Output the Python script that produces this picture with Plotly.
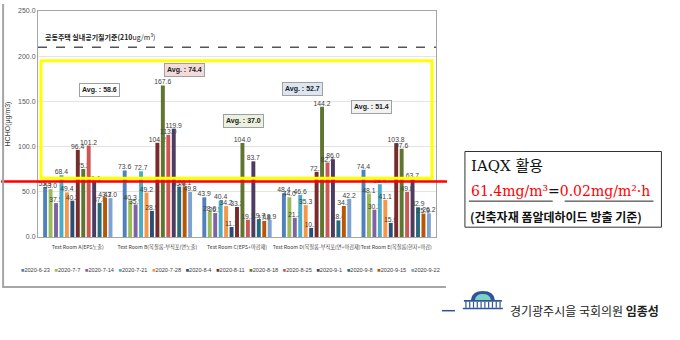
import plotly.graph_objects as go

rooms = ["Test Room A(EPS노출)", "Test Room B(목질룸-부직포(면노출)", "Test Room C(EPS+마감재)",
         "Test Room D(목질룸-부직포(면+마감재)", "Test Room E(목질룸(현자+마감)"]
dates = ["2020-6-23", "2020-7-7", "2020-7-14", "2020-7-21", "2020-7-28", "2020-8-4", "2020-8-11",
         "2020-8-18", "2020-8-25", "2020-9-1", "2020-9-8", "2020-9-15", "2020-9-22"]
v_0623 = [55.3, 73.6, 43.9, 48.4, 74.4]
v_0707 = [53.0, 40.3, 28.0, 44.0, 48.1]
v_0714 = [37.5, 35.9, 26.5, 21.2, 30.2]
v_0721 = [68.4, 72.7, 40.4, 46.6, 58.4]
v_0728 = [49.4, 49.2, 34.2, 35.3, 41.1]
v_0804 = [40.2, 28.9, 11.1, 10.1, 15.6]
v_0811 = [96.4, 104.2, 33.2, 72.1, 103.8]
v_0818 = [75.2, 167.6, 104.0, 144.2, 97.6]
v_0825 = [101.2, 113.0, 19.1, 82.4, 49.8]
v_0901 = [61.1, 119.9, 83.7, 86.0, 63.7]
v_0908 = [37.8, 55.8, 19.7, 18.4, 32.9]
v_0915 = [43.7, 56.1, 17.8, 34.3, 25.9]
v_0922 = [43.0, 49.8, 18.9, 42.2, 26.2]
series = [v_0623, v_0707, v_0714, v_0721, v_0728, v_0804, v_0811, v_0818, v_0825, v_0901, v_0908, v_0915, v_0922]
standard_210 = 210
iaqx_limit = 61.4

colors = ["#4F81BD", "#9BBB59", "#8064A2", "#4BACC6", "#F79646", "#2C4D75", "#772C2A",
          "#5F7530", "#CD5755", "#4D3B62", "#276A7C", "#B65708", "#7FA2D2"]

# plot area in pixels
L, T, W, H = 37, 7, 399, 230
def px(x): return (x - L) / W
def py(y): return (T + H - y) / H

FONT = "Liberation Sans, Noto Sans CJK KR, sans-serif"
KFONT = "Noto Sans CJK KR, sans-serif"

fig = go.Figure()
for d, vals, c in zip(dates, series, colors):
    fig.add_trace(go.Bar(
        x=rooms, y=vals, name=d, marker=dict(color=c, line=dict(width=0)),
        text=[f"{v:.1f}" for v in vals], textposition="outside",
        textfont=dict(size=6.8, color="#404040", family=FONT), cliponaxis=False,
    ))

shapes = []
ann = []

# 210 standard dashed line
shapes.append(dict(type="line", xref="paper", yref="y", x0=0, x1=1, y0=standard_210, y1=standard_210,
                   line=dict(color="#555555", width=1.5, dash="dash"), layer="above"))
ann.append(dict(xref="paper", yref="y", x=px(42), y=standard_210 + 3, xanchor="left", yanchor="bottom",
                text="<b>공동주택 실내공기질기준(210</b>ug/m<sup>3</sup>)", showarrow=False,
                font=dict(size=7, color="#202020", family=KFONT)))

# yellow highlight box
shapes.append(dict(type="rect", xref="paper", yref="y", x0=px(40), x1=px(432), y0=65, y1=195,
                   line=dict(color="#FFFF00", width=3), fillcolor="rgba(0,0,0,0)", layer="above"))
# red IAQX line
shapes.append(dict(type="line", xref="paper", yref="y", x0=px(0), x1=px(447), y0=iaqx_limit, y1=iaqx_limit,
                   line=dict(color="#FF0000", width=2.5), layer="above"))

# average boxes
avg_pos = [(78, 163), (163, 185), (243, 128), (323, 164), (392, 143.5)]
avg_bg = ["#FFFFFF", "#F2DCDB", "#EBF1DE", "#DCE6F2", "#F2F2F2"]
for i, (room, (ax, ay), bg) in enumerate(zip(rooms, avg_pos, avg_bg)):
    avg = sum(s[i] for s in series) / len(series)
    ann.append(dict(xref="paper", yref="y", x=px(ax), y=ay, text=f"<b>Avg. : {avg:.1f}</b>", showarrow=False,
                    font=dict(size=7, color="#202020", family=FONT), bgcolor=bg, bordercolor="#A0A0A0",
                    borderwidth=1, borderpad=2))

# custom legend
leg = "   ".join(f"<span style='color:{c}'>■</span>{d}" for d, c in zip(dates, colors))
ann.append(dict(xref="paper", yref="paper", x=px(230), y=py(271), text=leg, showarrow=False,
                xanchor="center", yanchor="middle", font=dict(size=5.6, color="#404040", family=FONT)))

# outer frame
shapes.append(dict(type="line", xref="paper", yref="paper", x0=px(2), x1=px(2), y0=py(0), y1=py(288),
                   line=dict(color="#A6A6A6", width=2)))
shapes.append(dict(type="line", xref="paper", yref="paper", x0=px(1), x1=px(446), y0=py(288), y1=py(288),
                   line=dict(color="#A6A6A6", width=2)))

# right info box
shapes.append(dict(type="rect", xref="paper", yref="paper", x0=px(465), x1=px(662), y0=py(150), y1=py(227),
                   line=dict(color="#333333", width=1)))
SFONT = "DejaVu Serif, Noto Sans CJK KR, serif"
ann.append(dict(xref="paper", yref="paper", x=px(469), y=py(165), xanchor="left", yanchor="middle",
                text="IAQX 활용", showarrow=False, font=dict(size=15, color="#111111", family=SFONT)))
ann.append(dict(xref="paper", yref="paper", x=px(469), y=py(190), xanchor="left", yanchor="middle",
                text="<span style='color:#FF0000'>61.4mg/m³</span>=<span style='color:#FF0000'>0.02mg/m²·h</span>",
                showarrow=False, font=dict(size=14, color="#111111", family=SFONT)))
shapes.append(dict(type="line", xref="paper", yref="paper", x0=px(469), x1=px(553), y0=py(200.5), y1=py(200.5),
                   line=dict(color="#222222", width=1)))
shapes.append(dict(type="line", xref="paper", yref="paper", x0=px(565), x1=px(654), y0=py(200.5), y1=py(200.5),
                   line=dict(color="#222222", width=1)))
ann.append(dict(xref="paper", yref="paper", x=px(468), y=py(216), xanchor="left", yanchor="middle",
                text="<b>(건축자재 폼알데하이드 방출 기준)</b>", showarrow=False,
                font=dict(size=12, color="#111111", family=KFONT)))

# bottom-right logo
shapes.append(dict(type="line", xref="paper", yref="paper", x0=px(442), x1=px(455), y0=py(312), y1=py(312),
                   line=dict(color="#2F5597", width=1.5)))
def P(x, y): return f"{px(x)},{py(y)}"
dome = f"M {P(471,301)} Q {P(472,292)} {P(483,292)} Q {P(494,292)} {P(495,301)} Z"
shapes.append(dict(type="path", xref="paper", yref="paper", path=dome, fillcolor="#2F5597",
                   line=dict(color="#2F5597", width=0)))
inner = f"M {P(475,301)} Q {P(476,295)} {P(483,295)} Q {P(490,295)} {P(491,301)} Z"
shapes.append(dict(type="path", xref="paper", yref="paper", path=inner, fillcolor="#7FD1C7",
                   line=dict(color="#7FD1C7", width=0)))
shapes.append(dict(type="rect", xref="paper", yref="paper", x0=px(464), x1=px(502), y0=py(303), y1=py(301),
                   fillcolor="#2F5597", line=dict(width=0)))
for k in range(10):
    cx = 466 + k * 3.8
    shapes.append(dict(type="line", xref="paper", yref="paper", x0=px(cx), x1=px(cx), y0=py(303), y1=py(309),
                       line=dict(color="#2F5597", width=1.2)))
shapes.append(dict(type="rect", xref="paper", yref="paper", x0=px(463), x1=px(503), y0=py(310.5), y1=py(309),
                   fillcolor="#2F5597", line=dict(width=0)))
ann.append(dict(xref="paper", yref="paper", x=px(508), y=py(312), xanchor="left", yanchor="middle",
                text="경기광주시을 국회의원 <b>임종성</b>", showarrow=False,
                font=dict(size=12, color="#222222", family=KFONT)))

fig.update_layout(
    width=680, height=340, margin=dict(l=L, r=680 - L - W, t=T, b=340 - T - H),
    paper_bgcolor="white", plot_bgcolor="white", barmode="group", bargap=0.11, bargroupgap=0.28,
    showlegend=False, shapes=shapes, annotations=ann,
    uniformtext=dict(minsize=6.8, mode="show"), font=dict(family=FONT),
)
fig.update_xaxes(showline=True, mirror=True, linecolor="#A6A6A6", linewidth=1, tickangle=0,
                 ticklabelstandoff=5,
                 tickfont=dict(size=5.2, color="#404040", family=KFONT), ticks="", showgrid=False)
fig.update_yaxes(range=[0, 250], dtick=50, tickformat=".1f", showline=True, mirror=True,
                 linecolor="#A6A6A6", linewidth=1, gridcolor="#E4E4E4", zeroline=False,
                 tickfont=dict(size=7, color="#595959", family=FONT),
                 title=dict(text="HCHO(μg/m3)", font=dict(size=7, color="#404040", family=FONT), standoff=6))

fig.write_html("out.html")
